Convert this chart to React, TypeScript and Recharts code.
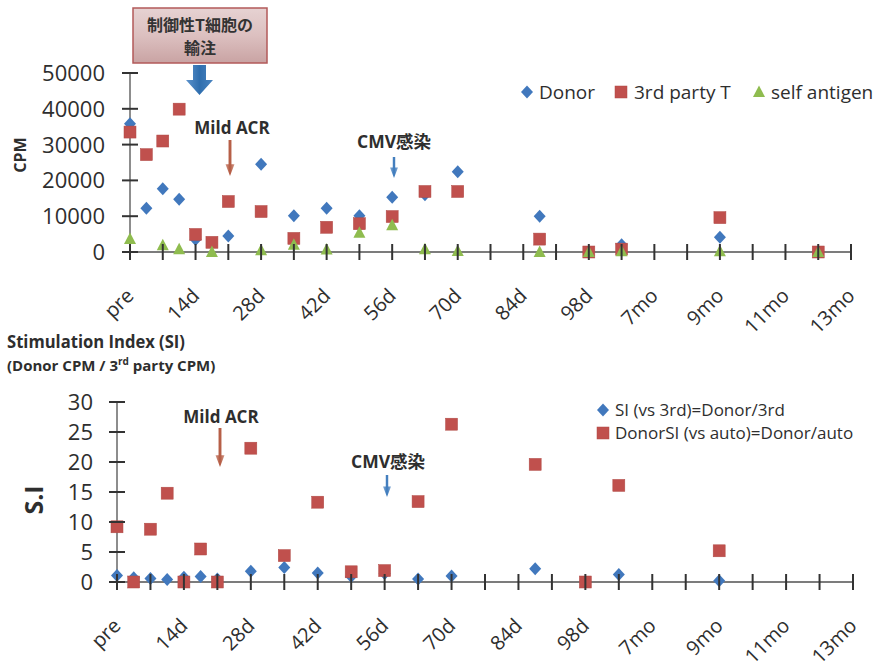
import { ScatterChart, Scatter, XAxis, YAxis } from 'recharts';

// category labels on the time axis (every other tick is labelled)
const timeLabels = ['pre', '14d', '28d', '42d', '56d', '70d', '84d', '98d', '7mo', '9mo', '11mo', '13mo'];

// sampling points, in axis units (one unit = half a labelled step)
const cpmX = [0, 0.5, 1, 1.5, 2, 2.5, 3, 4, 5, 6, 7, 8, 9, 10, 12.5, 14, 15, 18, 21];
const donorCpm = [35800, 12200, 17700, 14700, 3500, null, 4500, 24500, 10100, 12200, 10100, 15300, 16000, 22400, 10000, null, 2000, 4100, null];
const thirdCpm = [33500, 27200, 31000, 39900, 4900, 2700, 14100, 11300, 3800, 6900, 7900, 9900, 16900, 16900, 3600, 0, 800, 9600, 0];
const selfCpm = [3600, null, 1900, 800, null, 0, null, 500, 2000, 700, 5400, 7500, 800, 300, 0, 0, 200, 200, 0];

const siX = [0, 0.5, 1, 1.5, 2, 2.5, 3, 4, 5, 6, 7, 8, 9, 10, 12.5, 14, 15, 18];
const siVs3rd = [1.1, 0.7, 0.6, 0.4, 0.8, 0.9, 0.5, 1.8, 2.4, 1.5, 0.9, 1.4, 0.5, 1.0, 2.2, null, 1.25, 0.2];
const siVsAuto = [9.2, 0, 8.8, 14.8, 0, 5.5, 0, 22.3, 4.4, 13.3, 1.7, 1.9, 13.4, 26.3, 19.6, 0, 16.1, 5.2];

const cpmTicks = [0, 10000, 20000, 30000, 40000, 50000];
const siTicks = [0, 5, 10, 15, 20, 25, 30];

const BLUE = '#4178bd';
const RED = '#c0504d';
const GREEN = '#8fbc4f';
const AXIS = '#505050';
const TEXT = '#2e2e2e';
const FONT = '"Open Sans", "Noto Sans CJK JP", sans-serif';

// plot frames (px, page coords) shared by charts and the cross ticks
const TOP = { left: 130, right: 851, top: 73, bottom: 252 };
const BOT = { left: 117, right: 853, top: 402, bottom: 582 };

const toPoints = (xs: number[], ys: (number | null)[]) =>
  xs.map((x, i) => ({ x, y: ys[i] })).filter((p) => p.y !== null);

const xTicks = Array.from({ length: timeLabels.length * 2 - 1 }, (_, i) => i);
const X_MAX = xTicks[xTicks.length - 1];

const Diamond = ({ cx, cy }: any) => (
  <polygon points={`${cx},${cy - 6.5} ${cx + 6},${cy} ${cx},${cy + 6.5} ${cx - 6},${cy}`} fill={BLUE} />
);
const Square = ({ cx, cy }: any) => (
  <rect x={cx - 6} y={cy - 6} width={12} height={12} fill={RED} stroke="#b04a46" strokeWidth={0.5} />
);
const Triangle = ({ cx, cy }: any) => (
  <polygon points={`${cx},${cy - 6.5} ${cx + 6},${cy + 5} ${cx - 6},${cy + 5}`} fill={GREEN} />
);

const XTick = ({ x, y, payload }: any) => {
  const v = payload.value;
  const label = v % 2 === 0 ? timeLabels[v / 2] : null;
  const ax = x + 5;
  const ay = y + 37;
  return label ? (
    <text x={ax} y={ay} textAnchor="end" fontSize={20} fill={TEXT} fontFamily={FONT}
      transform={`rotate(-45 ${ax} ${ay})`}>
      {label}
    </text>
  ) : (
    <g />
  );
};

const makeYTick = (gap: number) => ({ x, y, payload }: any) => (
  <text x={x - gap + 8} y={y} dy="0.36em" textAnchor="end" fontSize={22} fill={TEXT} fontFamily={FONT}>
    {payload.value}
  </text>
);

// cross-shaped tick marks like the original (Recharts only draws outside ticks)
const CrossTicks = ({ frame, yTicks, yMax }: any) => (
  <g stroke="#333333" strokeWidth={2}>
    {xTicks.map((t) => {
      const x = frame.left + (t / X_MAX) * (frame.right - frame.left);
      return <line key={`x${t}`} x1={x} x2={x} y1={frame.bottom - 8} y2={frame.bottom + 8} />;
    })}
    {yTicks.map((t: number) => {
      const y = frame.bottom - (t / yMax) * (frame.bottom - frame.top);
      return <line key={`y${t}`} x1={frame.left - 8} x2={frame.left + 8} y1={y} y2={y} />;
    })}
  </g>
);

const DownArrow = ({ id, x, y1, y2, color, shaft = 3, head = 10 }: any) => (
  <g>
    <defs>
      <linearGradient id={id} x1="0" x2="1" y1="0" y2="0">
        <stop offset="0" stopColor={color} stopOpacity={0.6} />
        <stop offset="0.5" stopColor={color} />
        <stop offset="1" stopColor={color} stopOpacity={0.6} />
      </linearGradient>
    </defs>
    <polygon
      fill={`url(#${id})`}
      points={`${x - shaft / 2},${y1} ${x + shaft / 2},${y1} ${x + shaft / 2},${y2 - head * 1.3} ${x + head / 2},${y2 - head * 1.3} ${x},${y2} ${x - head / 2},${y2 - head * 1.3} ${x - shaft / 2},${y2 - head * 1.3}`}
    />
  </g>
);

const axisLine = { stroke: AXIS, strokeWidth: 1.3 };

export default function App() {
  return (
    <div style={{ position: 'absolute', left: 0, top: 0, width: 879, height: 668, background: '#fff', fontFamily: FONT }}>
      <div style={{ position: 'absolute', left: 0, top: 0 }}>
        <ScatterChart width={879} height={340}
          margin={{ top: TOP.top, right: 879 - TOP.right, bottom: 0, left: 0 }}>
          <XAxis type="number" dataKey="x" domain={[0, X_MAX]} ticks={xTicks} interval={0} height={340 - TOP.bottom}
            tickLine={false} tickSize={8} tickMargin={0} axisLine={axisLine} tick={<XTick />} />
          <YAxis type="number" dataKey="y" domain={[0, 50000]} ticks={cpmTicks} width={TOP.left}
            tickLine={false} tickSize={8} tickMargin={0} axisLine={axisLine} tick={makeYTick(25)} />
          <Scatter name="Donor" data={toPoints(cpmX, donorCpm)} shape={<Diamond />} isAnimationActive={false} />
          <Scatter name="3rd party T" data={toPoints(cpmX, thirdCpm)} shape={<Square />} isAnimationActive={false} />
          <Scatter name="self antigen" data={toPoints(cpmX, selfCpm)} shape={<Triangle />} isAnimationActive={false} />
        </ScatterChart>
      </div>
      <div style={{ position: 'absolute', left: 0, top: 340 }}>
        <ScatterChart width={879} height={328}
          margin={{ top: BOT.top - 340, right: 879 - BOT.right, bottom: 0, left: 0 }}>
          <XAxis type="number" dataKey="x" domain={[0, X_MAX]} ticks={xTicks} interval={0} height={668 - BOT.bottom}
            tickLine={false} tickSize={8} tickMargin={0} axisLine={axisLine} tick={<XTick />} />
          <YAxis type="number" dataKey="y" domain={[0, 30]} ticks={siTicks} width={BOT.left}
            tickLine={false} tickSize={8} tickMargin={0} axisLine={axisLine} tick={makeYTick(24)} />
          <Scatter name="SI (vs 3rd)=Donor/3rd" data={toPoints(siX, siVs3rd)} shape={<Diamond />} isAnimationActive={false} />
          <Scatter name="DonorSI (vs auto)=Donor/auto" data={toPoints(siX, siVsAuto)} shape={<Square />} isAnimationActive={false} />
        </ScatterChart>
      </div>

      {/* annotations, titles, legends and cross ticks */}
      <svg width={879} height={668} style={{ position: 'absolute', left: 0, top: 0, pointerEvents: 'none' }}>
        <defs>
          <linearGradient id="boxFill" x1="0" x2="0" y1="0" y2="1">
            <stop offset="0" stopColor="#e6d2d2" />
            <stop offset="0.5" stopColor="#dcc0c0" />
            <stop offset="1" stopColor="#c9a3a3" />
          </linearGradient>
          <linearGradient id="bigArrow" x1="0" x2="1" y1="0" y2="0">
            <stop offset="0" stopColor="#5d93cc" />
            <stop offset="0.5" stopColor="#2f6eae" />
            <stop offset="1" stopColor="#4a84c0" />
          </linearGradient>
        </defs>

        <CrossTicks frame={TOP} yTicks={cpmTicks} yMax={50000} />
        <CrossTicks frame={BOT} yTicks={siTicks} yMax={30} />

        <rect x={133} y={8} width={134} height={55} fill="url(#boxFill)" stroke="#b25a5a" strokeWidth={1.5} />
        <text x={200} y={31} textAnchor="middle" fontSize={16} fontWeight={700} fill="#333"
          fontFamily='"Noto Sans CJK JP", sans-serif'>制御性T細胞の</text>
        <text x={200} y={54} textAnchor="middle" fontSize={16} fontWeight={700} fill="#333"
          fontFamily='"Noto Sans CJK JP", sans-serif'>輸注</text>
        <polygon points="193,65 206,65 206,80 213,80 199.5,95 186,80 193,80" fill="url(#bigArrow)" />

        <text x={232} y={134} textAnchor="middle" fontSize={17} fontWeight={700} fill={TEXT} fontFamily={FONT}>Mild ACR</text>
        <DownArrow id="a1" x={230} y1={140} y2={176} color="#b3583f" shaft={3} head={9} />
        <text x={394} y={148} textAnchor="middle" fontSize={17.5} fontWeight={700} fill={TEXT} fontFamily={FONT}>CMV感染</text>
        <DownArrow id="a2" x={394} y1={157} y2={178} color="#3a78bb" shaft={2.5} head={8} />

        <text x={221} y={423} textAnchor="middle" fontSize={17} fontWeight={700} fill={TEXT} fontFamily={FONT}>Mild ACR</text>
        <DownArrow id="a3" x={220} y1={428} y2={467} color="#b3583f" shaft={3} head={9} />
        <text x={388} y={468} textAnchor="middle" fontSize={17.5} fontWeight={700} fill={TEXT} fontFamily={FONT}>CMV感染</text>
        <DownArrow id="a4" x={387} y1={475} y2={497} color="#3a78bb" shaft={2.5} head={8} />

        <text transform="translate(26 155) rotate(-90)" textAnchor="middle" fontSize={16} fontWeight={700}
          fill={TEXT} fontFamily={FONT}>CPM</text>
        <text transform="translate(43 500) rotate(-90)" textAnchor="middle" fontSize={25} fontWeight={700}
          fill={TEXT} fontFamily={FONT}>S.I</text>

        <text x={7} y={348} fontSize={18} fontWeight={700} fill={TEXT} fontFamily={FONT}
          textLength={178} lengthAdjust="spacingAndGlyphs">Stimulation Index (SI)</text>
        <text x={7} y={371} fontSize={15} fontWeight={700} fill={TEXT} fontFamily={FONT}>
          (Donor CPM / 3<tspan fontSize={10} dy={-6}>rd</tspan><tspan dy={6}> party CPM)</tspan>
        </text>

        {/* top legend */}
        <Diamond cx={527} cy={92} />
        <text x={539} y={99} fontSize={19} fill={TEXT} fontFamily={FONT}>Donor</text>
        <Square cx={621} cy={92} />
        <text x={634} y={99} fontSize={19} fill={TEXT} fontFamily={FONT}>3rd party T</text>
        <Triangle cx={759} cy={92} />
        <text x={771} y={99} fontSize={19} fill={TEXT} fontFamily={FONT}>self antigen</text>

        {/* bottom legend */}
        <Diamond cx={603} cy={410} />
        <text x={615} y={416} fontSize={17} fill={TEXT} fontFamily={FONT}>SI (vs 3rd)=Donor/3rd</text>
        <Square cx={603} cy={433} />
        <text x={615} y={439} fontSize={17} fill={TEXT} fontFamily={FONT}>DonorSI (vs auto)=Donor/auto</text>
      </svg>
    </div>
  );
}
